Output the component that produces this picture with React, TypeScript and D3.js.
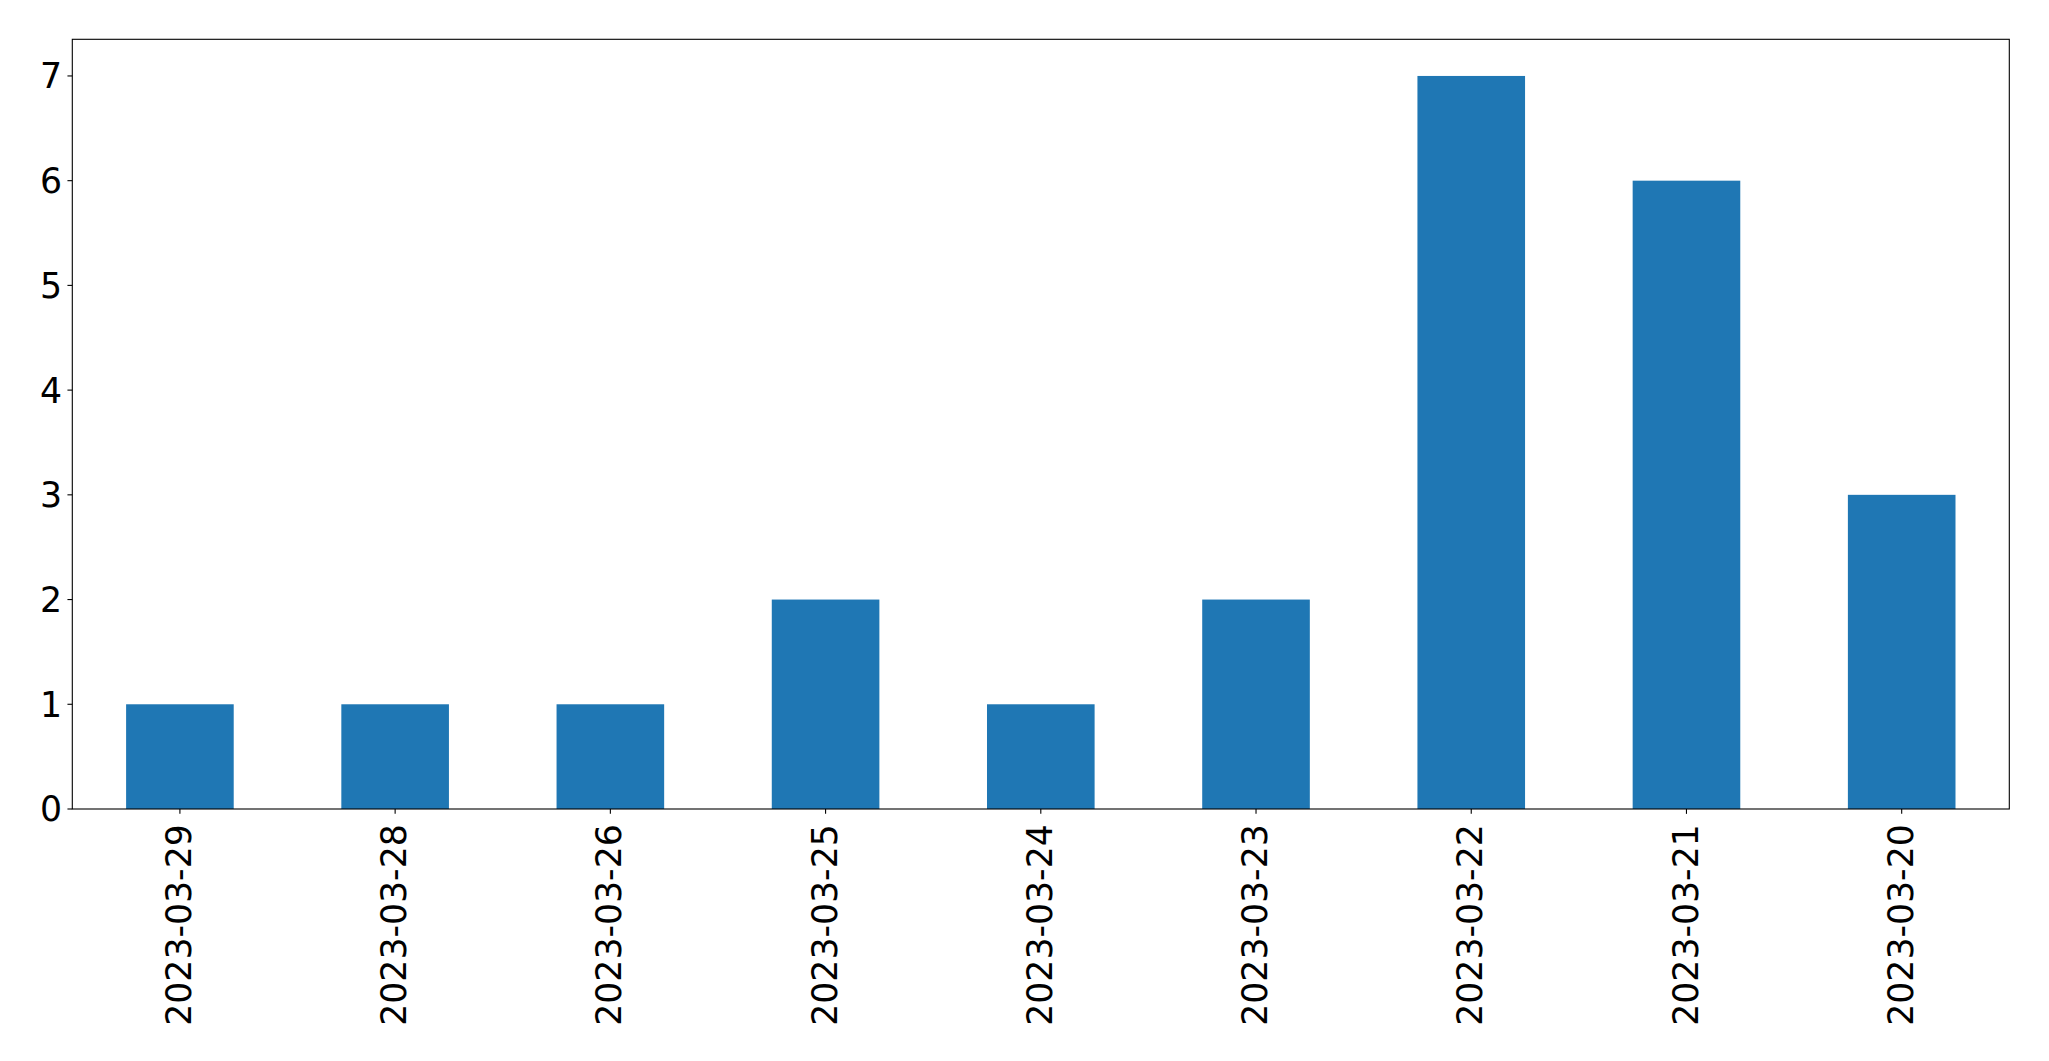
import React from "react";
import * as d3 from "d3";

const categories = ["2023-03-29", "2023-03-28", "2023-03-26", "2023-03-25", "2023-03-24", "2023-03-23", "2023-03-22", "2023-03-21", "2023-03-20"];
const values = [1, 1, 1, 2, 1, 2, 7, 6, 3];
const yTicks = [0, 1, 2, 3, 4, 5, 6, 7];

const W = 2049;
const H = 1061;
const left = 72.3;
const right = 2009.3;
const top = 39.3;
const bottom = 809;
const fs = 34.7;
const tickLen = 4.86;
const pad = 4.86;

export default function App() {
  const x = d3.scaleBand<string>().domain(categories).range([left, right]).paddingInner(0.5).paddingOuter(0.25);
  const y = d3.scaleLinear().domain([0, d3.max(values)! * 1.05]).range([bottom, top]);
  const font = "DejaVu Sans, sans-serif";
  return (
    <svg width={W} height={H} style={{ position: "absolute", left: 0, top: 0, display: "block", background: "#fff" }}>
      <rect x={0} y={0} width={W} height={H} fill="#fff" />
      {categories.map((c, i) => (
        <rect key={c} x={x(c)!} y={y(values[i])} width={x.bandwidth()} height={y(0) - y(values[i])} fill="#1f77b4" />
      ))}
      <rect x={left} y={top} width={right - left} height={bottom - top} fill="none" stroke="#000" strokeWidth={1.1} />
      {yTicks.map((t) => (
        <g key={t}>
          <line x1={left - tickLen} x2={left} y1={y(t)} y2={y(t)} stroke="#000" strokeWidth={1.1} />
          <text x={left - tickLen - pad - 0.5} y={y(t)} dy="0.36em" textAnchor="end" fontFamily={font} fontSize={fs} fill="#000">
            {t}
          </text>
        </g>
      ))}
      {categories.map((c) => {
        const cx = x(c)! + x.bandwidth() / 2;
        const ty = bottom + tickLen + pad + 5.5;
        return (
          <g key={c}>
            <line x1={cx} x2={cx} y1={bottom} y2={bottom + tickLen} stroke="#000" strokeWidth={1.1} />
            <text
              transform={`translate(${cx},${ty}) rotate(-90)`}
              textAnchor="end"
              dy="0.32em"
              fontFamily={font}
              fontSize={fs}
              fill="#000"
            >
              {c}
            </text>
          </g>
        );
      })}
    </svg>
  );
}
